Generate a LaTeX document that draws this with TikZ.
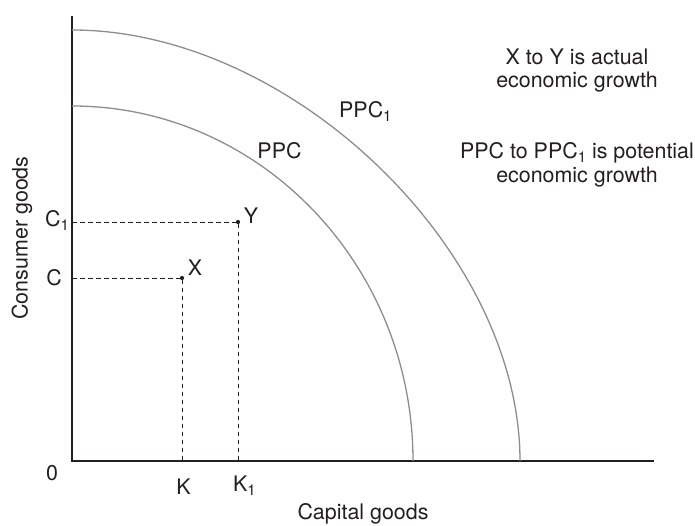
\documentclass[tikz,border=0pt]{standalone}
\usepackage{fontspec}
\setmainfont{TeX Gyre Heros}
\definecolor{ink}{HTML}{231F20}
\definecolor{curve}{HTML}{8C8D91}
\newcommand{\lowone}{\raisebox{-4bp}{\fontsize{15}{15}\selectfont 1}}
\begin{document}
\begin{tikzpicture}[x=1bp,y=1bp,
  lbl/.style={font=\fontsize{21.5}{25.5}\selectfont, text=ink, inner sep=0pt},
  axis/.style={draw=ink, line width=2.4bp},
  ppc/.style={draw=curve, line width=1.3bp},
  guide/.style={draw=ink, line width=0.9bp, dash pattern=on 4.5bp off 3.5bp},
  dot/.style={circle, fill=ink, inner sep=0pt, minimum size=4.2bp}]
\useasboundingbox (0,0) rectangle (695,526);
% axes
\coordinate (O) at (72,65);
\coordinate (ytop) at (72,510);
\coordinate (xend) at (654,65);
\draw[axis] (ytop) -- (O) -- (xend);
% curves
\coordinate (out0) at (72,496);
\coordinate (out1) at (520,65);
\coordinate (in0) at (72,420);
\coordinate (in1) at (413,65);
\draw[ppc] (out0) .. controls (291.5,496) and (520,276) .. (out1);
\draw[ppc] (in0) .. controls (260,420) and (413,261) .. (in1);
% points
\node[dot] (X) at (182,248) {};
\node[dot] (Y) at (238,304) {};
\coordinate (Cy) at (72,248);
\coordinate (C1y) at (72,304);
\coordinate (Kx) at (182,65);
\coordinate (K1x) at (238,65);
\draw[guide] (Cy) -- (X.center) -- (Kx);
\draw[guide] (C1y) -- (Y.center) -- (K1x);
% labels
\node[lbl] (Xl) at (195,258) {X};
\node[lbl] (Yl) at (251,310.5) {Y};
\node[lbl, anchor=east] (Cl) at (62,248) {C};
\node[lbl, anchor=base west] (C1l) at (45,299) {C\lowone};
\node[lbl] (zero) at (52,53) {0};
\node[lbl] (Kl) at (183.5,39) {K};
\node[lbl, anchor=base west] (K1l) at (233,34) {K\lowone};
\node[lbl] (xlab) at (363,12) {Capital goods};
\node[lbl, rotate=90] (ylab) at (22,288) {Consumer goods};
\node[lbl] (ppcl) at (279.5,375) {PPC};
\node[lbl, anchor=base west] (ppc1l) at (339,408) {PPC\lowone};
\node[lbl] (t1) at (577,469) {X to Y is actual};
\node[lbl] (t2) at (577,444) {economic growth};
\node[lbl] (t3) at (577,373) {PPC to PPC\lowone{} is potential};
\node[lbl] (t4) at (577,349) {economic growth};
\end{tikzpicture}
\end{document}
